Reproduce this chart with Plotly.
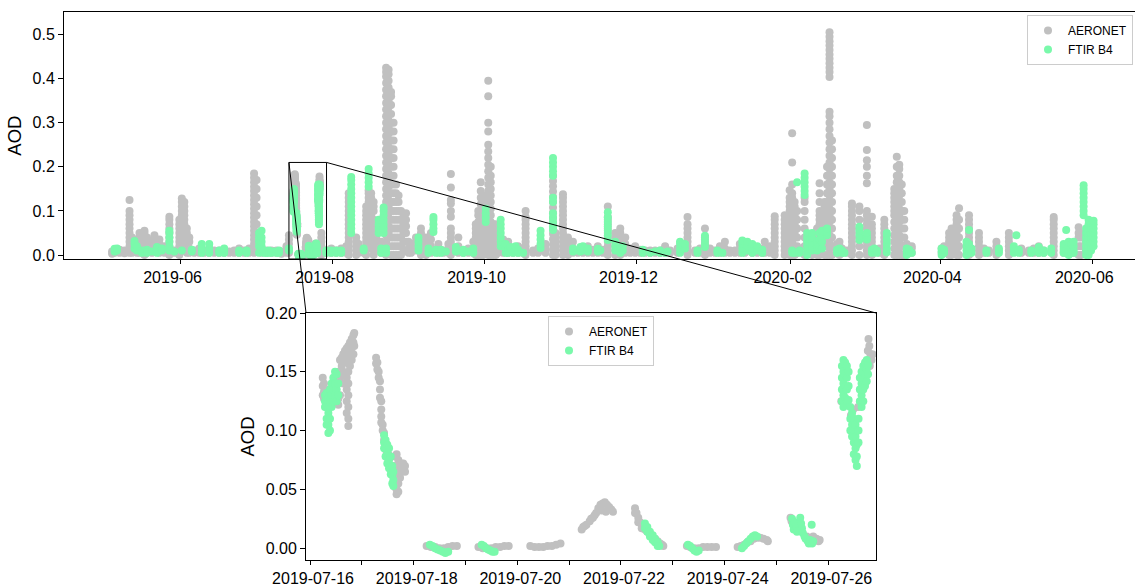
import pandas as pd
import plotly.graph_objects as go

# ---------------- data ----------------
SERIES_NAMES = ["AERONET", "FTIR B4"]
SERIES_COLORS = ["#c0c0c0", "#7af9ab"]

# daily columns (date, AOD values measured that day) for the full period
AERONET_DAILY = [
    ("2019-05-04", [0.003, 0.008]), ("2019-05-05", [0.005, 0.01]), ("2019-05-07", [0.005, 0.012]),
    ("2019-05-09", [0.004, 0.01]),
    ("2019-05-11", [0.005, 0.01, 0.02, 0.03, 0.04, 0.05, 0.06, 0.07, 0.08, 0.09, 0.1, 0.125]),
    ("2019-05-12", [0.005, 0.015, 0.03, 0.04]), ("2019-05-14", [0.005, 0.015, 0.025, 0.035]),
    ("2019-05-15", [0.005, 0.02, 0.03, 0.04, 0.05]),
    ("2019-05-17", [0.0, 0.01, 0.02, 0.03, 0.04, 0.05, 0.055]), ("2019-05-18", [0.005, 0.02, 0.03, 0.04]),
    ("2019-05-20", [0.005, 0.015, 0.03]), ("2019-05-21", [0.01, 0.02, 0.03, 0.04, 0.045]),
    ("2019-05-23", [0.005, 0.015, 0.025, 0.035]), ("2019-05-25", [0.005, 0.012, 0.02]),
    ("2019-05-27", [0.0, 0.01, 0.02, 0.03, 0.04, 0.05, 0.06, 0.07, 0.08, 0.087]),
    ("2019-05-29", [0.005, 0.01]),
    ("2019-05-31", [0.0, 0.01, 0.02, 0.03, 0.04, 0.05, 0.06, 0.07, 0.08]),
    ("2019-06-01", [0.01, 0.02, 0.03, 0.04, 0.05, 0.06, 0.07, 0.08, 0.09, 0.1, 0.11, 0.12, 0.128]),
    ("2019-06-02", [0.02, 0.03, 0.04, 0.05, 0.06, 0.07, 0.08, 0.09, 0.1, 0.11, 0.12]),
    ("2019-06-03", [0.005, 0.02, 0.035, 0.05, 0.06]), ("2019-06-04", [0.005, 0.015, 0.03, 0.04]),
    ("2019-06-06", [0.005, 0.01]), ("2019-06-08", [0.005, 0.01, 0.015]), ("2019-06-10", [0.005, 0.01]),
    ("2019-06-12", [0.005, 0.015]), ("2019-06-14", [0.005, 0.01]), ("2019-06-16", [0.005, 0.01]),
    ("2019-06-18", [0.005, 0.012]), ("2019-06-20", [0.005, 0.008]), ("2019-06-22", [0.005, 0.01]),
    ("2019-06-24", [0.005, 0.01, 0.015]), ("2019-06-26", [0.005, 0.01]), ("2019-06-28", [0.005, 0.01, 0.015]),
    ("2019-06-30", [0.005, 0.015, 0.025, 0.035, 0.045, 0.055, 0.065, 0.075, 0.085, 0.095, 0.105, 0.115,
                    0.125, 0.135, 0.145, 0.155, 0.165, 0.175, 0.185]),
    ("2019-07-01", [0.01, 0.03, 0.05, 0.07, 0.09, 0.11, 0.13, 0.15, 0.17]),
    ("2019-07-03", [0.005, 0.01]), ("2019-07-05", [0.005, 0.01]), ("2019-07-07", [0.005, 0.01]),
    ("2019-07-09", [0.005, 0.01]), ("2019-07-11", [0.003, 0.008]), ("2019-07-13", [0.005, 0.01, 0.02]),
    ("2019-07-14", [0.005, 0.015, 0.025, 0.035, 0.045]),
    ("2019-07-27", [0.0, 0.01, 0.02, 0.03, 0.04, 0.05]),
    ("2019-07-29", [0.005, 0.01]), ("2019-07-31", [0.005, 0.015]), ("2019-08-02", [0.005, 0.01]),
    ("2019-08-04", [0.005, 0.015]), ("2019-08-06", [0.005, 0.01, 0.02]),
    ("2019-08-07", [0.0, 0.01, 0.02, 0.03, 0.04, 0.05, 0.06, 0.07, 0.08, 0.09, 0.1, 0.11, 0.12, 0.13, 0.14]),
    ("2019-08-10", [0.0, 0.01, 0.02, 0.03, 0.04]), ("2019-08-11", [0.005, 0.015, 0.025]),
    ("2019-08-13", [0.005, 0.01]),
    ("2019-08-14", [0.0, 0.01, 0.02, 0.03, 0.04, 0.05, 0.06, 0.07, 0.08, 0.09, 0.1, 0.11]),
    ("2019-08-15", [0.02, 0.04, 0.06, 0.08, 0.09, 0.1, 0.11, 0.12, 0.13, 0.14, 0.147]),
    ("2019-08-16", [0.03, 0.05, 0.07, 0.09, 0.1, 0.11, 0.12, 0.13, 0.14]),
    ("2019-08-17", [0.0, 0.01, 0.02, 0.04, 0.06, 0.08, 0.1, 0.11, 0.12]),
    ("2019-08-18", [0.01, 0.02, 0.03, 0.04, 0.05, 0.06]), ("2019-08-20", [0.005, 0.015, 0.03]),
    ("2019-08-22", [0.0, 0.015, 0.03, 0.045, 0.06, 0.075, 0.09, 0.105, 0.12, 0.135, 0.15, 0.165, 0.18,
                    0.195, 0.21, 0.225, 0.24, 0.255, 0.27, 0.285, 0.3, 0.315, 0.33, 0.345, 0.36, 0.375,
                    0.39, 0.405, 0.415, 0.425]),
    ("2019-08-23", [0.05, 0.065, 0.08, 0.095, 0.11, 0.125, 0.14, 0.155, 0.17, 0.185, 0.2, 0.215, 0.23,
                    0.245, 0.26, 0.275, 0.29, 0.305, 0.32, 0.335, 0.35, 0.365, 0.38, 0.395, 0.41, 0.42]),
    ("2019-08-24", [0.0, 0.02, 0.04, 0.06, 0.08, 0.1, 0.12, 0.14, 0.16, 0.18, 0.2, 0.22, 0.24, 0.26, 0.28,
                    0.3, 0.32, 0.34, 0.36, 0.37]),
    ("2019-08-25", [0.0, 0.02, 0.04, 0.06, 0.08, 0.1, 0.12, 0.14, 0.16, 0.18, 0.2, 0.22, 0.24, 0.26, 0.28, 0.3]),
    ("2019-08-26", [0.0, 0.02, 0.04, 0.06, 0.08, 0.1, 0.12, 0.14, 0.16]),
    ("2019-08-27", [0.0, 0.02, 0.04, 0.06, 0.08, 0.1, 0.12, 0.135]),
    ("2019-08-28", [0.0, 0.02, 0.04, 0.06, 0.08, 0.1]), ("2019-08-29", [0.01, 0.03, 0.05, 0.07, 0.09]),
    ("2019-08-30", [0.03, 0.05, 0.065, 0.08, 0.095]), ("2019-08-31", [0.005, 0.015, 0.03]),
    ("2019-09-01", [0.005, 0.015, 0.025]), ("2019-09-03", [0.01, 0.02, 0.03, 0.04]),
    ("2019-09-05", [0.0, 0.01, 0.02, 0.03, 0.04, 0.05, 0.06]), ("2019-09-07", [0.0, 0.01, 0.02, 0.03, 0.04]),
    ("2019-09-09", [0.005, 0.02, 0.035, 0.05]), ("2019-09-12", [0.005, 0.015, 0.025]),
    ("2019-09-14", [0.005, 0.01]), ("2019-09-16", [0.005, 0.015, 0.025]),
    ("2019-09-17", [0.0, 0.01, 0.02, 0.03, 0.04, 0.05, 0.06, 0.087, 0.1, 0.117, 0.125, 0.153, 0.184]),
    ("2019-09-20", [0.005, 0.02, 0.04]), ("2019-09-22", [0.005, 0.01]), ("2019-09-24", [0.005, 0.015]),
    ("2019-09-26", [0.005, 0.015, 0.03]),
    ("2019-09-27", [0.0, 0.01, 0.02, 0.03, 0.04, 0.05, 0.06, 0.07]),
    ("2019-09-28", [0.0, 0.015, 0.03, 0.045, 0.06, 0.075, 0.09, 0.1]),
    ("2019-09-29", [0.0, 0.012, 0.025, 0.04, 0.055, 0.07, 0.085, 0.1, 0.115, 0.13, 0.145, 0.165]),
    ("2019-09-30", [0.0, 0.015, 0.03, 0.045, 0.06, 0.075, 0.09, 0.105, 0.12, 0.135]),
    ("2019-10-01", [0.02, 0.04, 0.06, 0.08, 0.1, 0.12]),
    ("2019-10-02", [0.0, 0.012, 0.025, 0.04, 0.055, 0.07, 0.085, 0.1, 0.115, 0.13, 0.145, 0.16, 0.175,
                    0.19, 0.205, 0.22, 0.235, 0.25, 0.28, 0.3, 0.36, 0.395]),
    ("2019-10-03", [0.0, 0.015, 0.03, 0.045, 0.06, 0.075, 0.09, 0.105, 0.12, 0.135, 0.15, 0.165, 0.18, 0.2]),
    ("2019-10-04", [0.0, 0.01, 0.02, 0.03, 0.04, 0.05, 0.06, 0.07]),
    ("2019-10-05", [0.0, 0.01, 0.02, 0.03, 0.04, 0.05, 0.06, 0.07]),
    ("2019-10-06", [0.005, 0.02, 0.035, 0.05]), ("2019-10-08", [0.005, 0.02, 0.035]),
    ("2019-10-10", [0.005, 0.015, 0.03]), ("2019-10-12", [0.005, 0.015]), ("2019-10-14", [0.005, 0.01, 0.02]),
    ("2019-10-16", [0.005, 0.015]),
    ("2019-10-17", [0.0, 0.01, 0.02, 0.03, 0.04, 0.05, 0.06, 0.07, 0.08, 0.086, 0.1]),
    ("2019-10-20", [0.005, 0.01]), ("2019-10-22", [0.005, 0.015]), ("2019-10-25", [0.005, 0.015, 0.025]),
    ("2019-10-28", [0.0, 0.012, 0.024, 0.036, 0.048, 0.06, 0.072, 0.084, 0.096, 0.108, 0.12, 0.132, 0.144,
                    0.156, 0.168, 0.18]),
    ("2019-10-29", [0.0, 0.01, 0.02, 0.03, 0.04, 0.05]),
    ("2019-11-01", [0.0, 0.01, 0.02, 0.03, 0.04, 0.05, 0.06, 0.07, 0.08, 0.09, 0.1, 0.11, 0.12, 0.13, 0.138]),
    ("2019-11-03", [0.0, 0.01, 0.02, 0.03, 0.04]), ("2019-11-05", [0.005, 0.015, 0.03]),
    ("2019-11-07", [0.005, 0.01]), ("2019-11-09", [0.005, 0.01]), ("2019-11-11", [0.005, 0.01, 0.02]),
    ("2019-11-13", [0.005, 0.012]), ("2019-11-15", [0.005, 0.01, 0.02]), ("2019-11-17", [0.005, 0.012]),
    ("2019-11-19", [0.0, 0.01, 0.02, 0.03, 0.04, 0.05, 0.06, 0.07, 0.08, 0.086, 0.11]),
    ("2019-11-22", [0.0, 0.01, 0.02, 0.03, 0.04, 0.05]),
    ("2019-11-24", [0.0, 0.01, 0.02, 0.03, 0.04, 0.05, 0.06]), ("2019-11-26", [0.005, 0.015, 0.025, 0.04]),
    ("2019-11-28", [0.005, 0.015]), ("2019-11-30", [0.005, 0.01, 0.02]), ("2019-12-02", [0.005, 0.012]),
    ("2019-12-04", [0.005, 0.01]), ("2019-12-06", [0.005, 0.01]), ("2019-12-08", [0.005, 0.01]),
    ("2019-12-10", [0.005, 0.01]), ("2019-12-12", [0.005, 0.015, 0.02]), ("2019-12-14", [0.005, 0.01]),
    ("2019-12-17", [0.005, 0.015]),
    ("2019-12-21", [0.0, 0.01, 0.02, 0.03, 0.04, 0.05, 0.06, 0.07, 0.086]),
    ("2019-12-24", [0.005, 0.01]), ("2019-12-26", [0.005, 0.015]),
    ("2019-12-28", [0.0, 0.01, 0.02, 0.03, 0.04, 0.06]), ("2019-12-30", [0.005, 0.015]),
    ("2020-01-01", [0.005, 0.01]), ("2020-01-03", [0.005, 0.01, 0.02]), ("2020-01-05", [0.005, 0.015, 0.03]),
    ("2020-01-07", [0.005, 0.01]), ("2020-01-09", [0.005, 0.01]), ("2020-01-11", [0.005, 0.015, 0.025]),
    ("2020-01-13", [0.005, 0.01]), ("2020-01-16", [0.005, 0.01]), ("2020-01-18", [0.005, 0.01, 0.015]),
    ("2020-01-20", [0.005, 0.015]), ("2020-01-21", [0.005, 0.015, 0.03]), ("2020-01-23", [0.005, 0.01, 0.02]),
    ("2020-01-25", [0.0, 0.01, 0.02, 0.03, 0.04, 0.05, 0.06, 0.07, 0.08, 0.088]),
    ("2020-01-29", [0.0, 0.01, 0.02, 0.03, 0.04, 0.05, 0.06, 0.07, 0.08, 0.09]),
    ("2020-01-31", [0.0, 0.01, 0.02, 0.03, 0.04, 0.05, 0.06, 0.07, 0.08, 0.09, 0.1, 0.11, 0.12, 0.13, 0.147]),
    ("2020-02-01", [0.0, 0.015, 0.03, 0.05, 0.06, 0.07, 0.08, 0.09, 0.1, 0.11, 0.12, 0.13, 0.14, 0.16,
                    0.21, 0.276]),
    ("2020-02-02", [0.0, 0.02, 0.04, 0.05, 0.06, 0.07, 0.08, 0.09, 0.1, 0.11, 0.12]),
    ("2020-02-03", [0.005, 0.02, 0.04, 0.06, 0.08, 0.1]),
    ("2020-02-06", [0.0, 0.02, 0.04, 0.06, 0.08, 0.1, 0.12, 0.13]),
    ("2020-02-09", [0.0, 0.01, 0.02, 0.03]), ("2020-02-11", [0.0, 0.01, 0.02, 0.03, 0.04, 0.05, 0.06]),
    ("2020-02-12", [0.0, 0.01, 0.02, 0.03, 0.04, 0.05, 0.06, 0.07, 0.08, 0.09, 0.1, 0.12, 0.14, 0.163]),
    ("2020-02-14", [0.0, 0.02, 0.04, 0.06, 0.07, 0.08, 0.09, 0.1, 0.11, 0.12]),
    ("2020-02-15", [0.0, 0.02, 0.04, 0.06, 0.08, 0.1, 0.12, 0.14, 0.16, 0.18, 0.2]),
    ("2020-02-16", [0.0, 0.015, 0.03, 0.045, 0.06, 0.075, 0.09, 0.105, 0.12, 0.135, 0.15, 0.165, 0.18,
                    0.195, 0.21, 0.225, 0.24, 0.255, 0.27, 0.285, 0.3, 0.315, 0.325, 0.404, 0.415, 0.425,
                    0.435, 0.445, 0.455, 0.465, 0.475, 0.485, 0.495, 0.505]),
    ("2020-02-17", [0.0, 0.02, 0.04, 0.06, 0.08, 0.1, 0.12, 0.14, 0.16, 0.18, 0.2, 0.22, 0.24, 0.26]),
    ("2020-02-19", [0.005, 0.015, 0.025]), ("2020-02-20", [0.0, 0.01, 0.02, 0.03]),
    ("2020-02-21", [0.005, 0.015]), ("2020-02-23", [0.005, 0.01]),
    ("2020-02-25", [0.0, 0.01, 0.02, 0.03, 0.04, 0.05, 0.06, 0.07, 0.08, 0.09, 0.1, 0.11, 0.117]),
    ("2020-02-28", [0.0, 0.02, 0.04, 0.06, 0.08, 0.1, 0.11]),
    ("2020-03-02", [0.0, 0.01, 0.02, 0.03, 0.04, 0.05, 0.06, 0.07, 0.08, 0.09, 0.1, 0.163, 0.18, 0.2,
                    0.215, 0.238, 0.295]),
    ("2020-03-04", [0.0, 0.01, 0.02, 0.03, 0.04, 0.05, 0.06, 0.07, 0.087]), ("2020-03-07", [0.005, 0.015]),
    ("2020-03-09", [0.0, 0.01, 0.02, 0.03, 0.04, 0.05, 0.06, 0.07, 0.08]),
    ("2020-03-13", [0.0, 0.015, 0.03, 0.045, 0.06, 0.075, 0.09, 0.1, 0.11, 0.12, 0.13, 0.14, 0.15]),
    ("2020-03-14", [0.0, 0.015, 0.03, 0.045, 0.06, 0.075, 0.09, 0.105, 0.12, 0.135, 0.15, 0.165, 0.18,
                    0.2, 0.223]),
    ("2020-03-15", [0.0, 0.015, 0.03, 0.045, 0.06, 0.075, 0.09, 0.105, 0.12, 0.135, 0.15, 0.165, 0.18,
                    0.195, 0.205]),
    ("2020-03-16", [0.0, 0.02, 0.04, 0.06, 0.08, 0.1, 0.12, 0.14, 0.16]),
    ("2020-03-17", [0.0, 0.02, 0.04, 0.06, 0.08, 0.1]), ("2020-03-18", [0.005, 0.015, 0.025]),
    ("2020-03-20", [0.005, 0.015, 0.02]),
    ("2020-04-01", [0.005, 0.015]), ("2020-04-02", [0.005, 0.01, 0.02]),
    ("2020-04-04", [0.0, 0.01, 0.02, 0.03, 0.04, 0.05]), ("2020-04-05", [0.0, 0.01, 0.02, 0.03, 0.04, 0.05, 0.06]),
    ("2020-04-07", [0.0, 0.01, 0.02, 0.03, 0.04, 0.05, 0.06, 0.07, 0.08, 0.09]),
    ("2020-04-08", [0.0, 0.02, 0.04, 0.06, 0.08, 0.106]),
    ("2020-04-12", [0.0, 0.01, 0.02, 0.03, 0.04, 0.05, 0.06, 0.07, 0.08, 0.09]),
    ("2020-04-16", [0.0, 0.01, 0.02, 0.03, 0.04, 0.05]), ("2020-04-18", [0.005, 0.01, 0.015]),
    ("2020-04-20", [0.005, 0.01]), ("2020-04-23", [0.0, 0.01, 0.02, 0.03]),
    ("2020-04-28", [0.0, 0.01, 0.02, 0.03, 0.04, 0.05]), ("2020-05-03", [0.005, 0.015]),
    ("2020-05-06", [0.005, 0.01]), ("2020-05-08", [0.005, 0.015]), ("2020-05-10", [0.005, 0.01, 0.02]),
    ("2020-05-12", [0.005, 0.01]),
    ("2020-05-16", [0.0, 0.01, 0.02, 0.03, 0.04, 0.05, 0.06, 0.07, 0.08, 0.086]),
    ("2020-05-20", [0.005, 0.01, 0.02]), ("2020-05-22", [0.005, 0.015, 0.025]), ("2020-05-24", [0.005, 0.02]),
    ("2020-05-26", [0.0, 0.02, 0.04, 0.05, 0.063]), ("2020-05-27", [0.0, 0.02, 0.04, 0.05]),
    ("2020-05-29", [0.01, 0.03, 0.04]), ("2020-05-30", [0.005, 0.02, 0.04]), ("2020-05-31", [0.02, 0.04]),
]

FTIR_DAILY = [
    ("2019-05-05", [0.008, 0.014]), ("2019-05-06", [0.01, 0.015]), ("2019-05-13", [0.015, 0.025, 0.032]),
    ("2019-05-14", [0.01, 0.02]), ("2019-05-16", [0.005, 0.01]), ("2019-05-18", [0.005, 0.012]),
    ("2019-05-20", [0.008]), ("2019-05-22", [0.005, 0.012, 0.018]), ("2019-05-24", [0.01, 0.015]),
    ("2019-05-27", [0.01, 0.02, 0.03, 0.04, 0.05, 0.055]), ("2019-05-29", [0.008]), ("2019-06-01", [0.01]),
    ("2019-06-05", [0.008, 0.012]), ("2019-06-09", [0.005, 0.015, 0.025]), ("2019-06-12", [0.005, 0.015, 0.025]),
    ("2019-06-16", [0.005, 0.01]), ("2019-06-18", [0.005, 0.01, 0.015]), ("2019-06-24", [0.005, 0.01]),
    ("2019-06-27", [0.005, 0.01]), ("2019-07-02", [0.005, 0.02, 0.03, 0.04, 0.05]),
    ("2019-07-03", [0.01, 0.02, 0.03, 0.04, 0.055]), ("2019-07-04", [0.005, 0.01]), ("2019-07-05", [0.005]),
    ("2019-07-06", [0.005, 0.01]), ("2019-07-07", [0.005]), ("2019-07-08", [0.008]), ("2019-07-09", [0.005]),
    ("2019-07-10", [0.005, 0.01]), ("2019-07-14", [0.01, 0.015]),
    ("2019-07-29", [0.005, 0.01]), ("2019-07-31", [0.005, 0.01]), ("2019-08-02", [0.005, 0.01]),
    ("2019-08-04", [0.005, 0.01]),
    ("2019-08-08", [0.05, 0.06, 0.07, 0.08, 0.09, 0.1, 0.11, 0.12, 0.13, 0.14, 0.15, 0.16, 0.17, 0.177]),
    ("2019-08-13", [0.01, 0.015]), ("2019-08-15", [0.155, 0.165, 0.175, 0.185, 0.195]),
    ("2019-08-19", [0.05, 0.06, 0.07, 0.08]), ("2019-08-20", [0.005, 0.015]),
    ("2019-08-21", [0.05, 0.06, 0.07, 0.08, 0.09, 0.1, 0.108]), ("2019-08-22", [0.005, 0.015]),
    ("2019-09-04", [0.01, 0.02, 0.03, 0.04]), ("2019-09-08", [0.005, 0.015]),
    ("2019-09-10", [0.052, 0.06, 0.07, 0.08, 0.086]), ("2019-09-11", [0.005, 0.012]),
    ("2019-09-13", [0.005, 0.012]), ("2019-09-15", [0.008]), ("2019-09-19", [0.008, 0.018]),
    ("2019-09-20", [0.01]), ("2019-09-22", [0.005, 0.012]), ("2019-09-24", [0.008]),
    ("2019-09-26", [0.005, 0.015]), ("2019-10-01", [0.075, 0.085, 0.095, 0.105]),
    ("2019-10-07", [0.02, 0.03, 0.04, 0.05, 0.06, 0.07, 0.08]), ("2019-10-09", [0.005, 0.015, 0.025]),
    ("2019-10-10", [0.005, 0.012]), ("2019-10-11", [0.008, 0.018]), ("2019-10-12", [0.005]),
    ("2019-10-13", [0.01, 0.02]), ("2019-10-14", [0.005, 0.012]), ("2019-10-16", [0.005]),
    ("2019-10-23", [0.016, 0.025, 0.035, 0.045, 0.055]),
    ("2019-10-28", [0.057, 0.065, 0.075, 0.085, 0.095, 0.12, 0.13, 0.18, 0.19, 0.2, 0.21, 0.22]),
    ("2019-11-05", [0.008, 0.015]), ("2019-11-07", [0.01]), ("2019-11-08", [0.008, 0.018]),
    ("2019-11-09", [0.01, 0.02]), ("2019-11-11", [0.008, 0.015]), ("2019-11-15", [0.008, 0.014]),
    ("2019-11-16", [0.01]), ("2019-11-19", [0.034, 0.045, 0.055, 0.065, 0.075, 0.085, 0.097]),
    ("2019-11-22", [0.01, 0.02, 0.03]), ("2019-11-24", [0.005, 0.015]), ("2019-11-25", [0.01, 0.02]),
    ("2019-12-03", [0.005, 0.012]), ("2019-12-06", [0.005]), ("2019-12-08", [0.008]),
    ("2019-12-10", [0.005, 0.01]), ("2019-12-12", [0.005]), ("2019-12-13", [0.008]),
    ("2019-12-18", [0.005, 0.015, 0.025, 0.03]), ("2019-12-20", [0.015, 0.025]), ("2019-12-25", [0.005, 0.01]),
    ("2019-12-28", [0.018, 0.025, 0.035, 0.044]), ("2020-01-02", [0.005, 0.01]), ("2020-01-04", [0.005]),
    ("2020-01-12", [0.005, 0.015, 0.025, 0.033]), ("2020-01-14", [0.01, 0.02, 0.03]),
    ("2020-01-16", [0.005, 0.015, 0.025]), ("2020-01-18", [0.01, 0.02]), ("2020-01-20", [0.005, 0.012]),
    ("2020-02-01", [0.005, 0.01]), ("2020-02-02", [0.005]), ("2020-02-03", [0.165]),
    ("2020-02-04", [0.005, 0.01]), ("2020-02-06", [0.136, 0.145, 0.155, 0.165, 0.175, 0.185]),
    ("2020-02-07", [0.0, 0.01, 0.02, 0.03, 0.04, 0.05]), ("2020-02-09", [0.01, 0.02, 0.03, 0.04, 0.05]),
    ("2020-02-11", [0.01, 0.02, 0.03]), ("2020-02-12", [0.02, 0.035, 0.05]),
    ("2020-02-13", [0.015, 0.03, 0.045, 0.055]), ("2020-02-15", [0.045, 0.052, 0.06]),
    ("2020-02-19", [0.005, 0.012]), ("2020-02-20", [0.008, 0.015]), ("2020-02-21", [0.005, 0.01]),
    ("2020-02-22", [0.005]), ("2020-02-28", [0.034, 0.045, 0.055, 0.064]), ("2020-03-02", [0.035, 0.042, 0.05]),
    ("2020-03-04", [0.005, 0.012]), ("2020-03-05", [0.008, 0.015]), ("2020-03-06", [0.005, 0.01]),
    ("2020-03-10", [0.006, 0.015, 0.025, 0.035, 0.045, 0.05]), ("2020-03-18", [0.0, 0.008, 0.015]),
    ("2020-03-19", [0.005, 0.012]), ("2020-03-20", [0.005]), ("2020-04-01", [0.0, 0.008, 0.015]),
    ("2020-04-02", [0.005, 0.012]), ("2020-04-11", [0.0, 0.01, 0.02, 0.03]),
    ("2020-04-12", [0.005, 0.015, 0.025, 0.057]), ("2020-04-13", [0.005, 0.015]), ("2020-04-19", [0.005, 0.01]),
    ("2020-04-24", [0.005, 0.01, 0.015]), ("2020-04-30", [0.005, 0.015, 0.02]), ("2020-05-01", [0.045]),
    ("2020-05-02", [0.005, 0.012]), ("2020-05-07", [0.005, 0.01]), ("2020-05-10", [0.005, 0.012, 0.018]),
    ("2020-05-12", [0.005, 0.01]), ("2020-05-15", [0.005, 0.015]), ("2020-05-20", [0.005, 0.015, 0.025]),
    ("2020-05-21", [0.057]), ("2020-05-22", [0.0, 0.01, 0.02, 0.03]), ("2020-05-23", [0.005, 0.015, 0.025]),
    ("2020-05-24", [0.005, 0.01, 0.02, 0.03]),
    ("2020-05-28", [0.09, 0.1, 0.11, 0.12, 0.13, 0.14, 0.15, 0.158]),
    ("2020-05-29", [0.0, 0.01, 0.02, 0.03, 0.04, 0.05, 0.06]),
    ("2020-05-30", [0.0, 0.01, 0.02, 0.03, 0.04, 0.05, 0.06, 0.07, 0.08]),
    ("2020-05-31", [0.01, 0.02, 0.03, 0.04, 0.05, 0.06, 0.07]),
    ("2020-06-01", [0.02, 0.03, 0.04, 0.05, 0.06, 0.07, 0.078]),
]

# detailed observations 16-26 July 2019: (hours since INSET_START, AOD values)
INSET_START = "2019-07-16"
AERONET_JULY = [
    (5.9, [0.145, 0.138, 0.13]), (6.5, [0.14, 0.133, 0.127]), (7.4, [0.135, 0.128]), (8.5, [0.13]),
    (10.0, [0.135]), (11.6, [0.14, 0.125]), (13.1, [0.15, 0.127, 0.122]), (13.9, [0.16, 0.145, 0.13]),
    (14.7, [0.162, 0.155]), (15.4, [0.165, 0.15, 0.14]), (16.2, [0.168, 0.158, 0.148]),
    (17.0, [0.17, 0.16, 0.145, 0.135, 0.125, 0.115]),
    (17.75, [0.172, 0.162, 0.15, 0.14, 0.13, 0.12, 0.11, 0.104]), (18.5, [0.175, 0.168, 0.155]),
    (19.3, [0.178, 0.17, 0.16]), (20.1, [0.181, 0.175, 0.165]), (20.5, [0.183, 0.172]),
    (30.6, [0.162, 0.157]), (31.2, [0.158, 0.152]), (31.8, [0.15, 0.145]), (32.4, [0.142, 0.135, 0.128]),
    (33.0, [0.125, 0.118, 0.112, 0.107]), (33.65, [0.105, 0.1]), (34.3, [0.098, 0.092]), (34.9, [0.09, 0.085]),
    (35.5, [0.088, 0.082]), (36.3, [0.08, 0.075]), (37.8, [0.07, 0.065]), (39.4, [0.078, 0.07, 0.06, 0.052]),
    (40.1, [0.08, 0.07, 0.06, 0.05, 0.046]), (40.9, [0.075, 0.065, 0.055, 0.048]), (41.7, [0.07, 0.06]),
    (42.4, [0.072, 0.065]), (43.2, [0.072, 0.066]), (44.0, [0.07, 0.065]),
    (54, [0.002]), (56, [0.001]), (58, [0.001]), (60, [0.0]), (62, [0.0]), (64, [0.001]), (66, [0.002]),
    (68, [0.002]),
    (78, [0.001]), (80, [0.0]), (82, [0.0]), (84, [0.0]), (86, [0.001]), (88, [0.001]), (90, [0.002]),
    (92, [0.002]),
    (102, [0.002]), (104, [0.001]), (106, [0.001]), (108, [0.001]), (110, [0.002]), (112, [0.002]),
    (114, [0.003]), (116, [0.004]),
    (125.8, [0.016]), (126.5, [0.018]), (127.2, [0.019]), (128.0, [0.02]), (129.5, [0.023]), (130.2, [0.025]),
    (131.0, [0.026]), (131.8, [0.028]), (132.5, [0.03]), (133.5, [0.034]), (134.5, [0.037]),
    (135.0, [0.032]), (135.5, [0.038]), (136.5, [0.039]), (137.0, [0.031]), (137.5, [0.037]),
    (138.5, [0.035]), (139.5, [0.033]), (140.3, [0.031]),
    (150.5, [0.034, 0.03]), (151.2, [0.03]), (152.0, [0.026, 0.022]), (152.8, [0.022]),
    (153.6, [0.02, 0.017]), (154.3, [0.018]), (155.1, [0.016]), (156.2, [0.014]), (157.4, [0.012]),
    (158.5, [0.01]), (159.75, [0.008]), (161.0, [0.006]), (162.1, [0.004]), (163.0, [0.003]), (163.6, [0.002]),
    (174.5, [0.002]), (176, [0.001]), (178, [0.0]), (180, [0.0]), (182, [0.001]), (184, [0.001]),
    (186, [0.001]), (188, [0.001]),
    (198, [0.001]), (199.5, [0.002]), (201, [0.003]), (202.5, [0.005]), (204, [0.006]), (205.5, [0.008]),
    (207, [0.009]), (208.5, [0.009]), (210, [0.008]), (211.5, [0.007]), (212, [0.006]),
    (222.5, [0.026]), (223, [0.023]), (224, [0.02]), (227, [0.018]), (230, [0.01]), (233, [0.01]),
    (234.5, [0.008]), (235.5, [0.006]), (236, [0.007]),
    (246, [0.125]), (250.5, [0.113]), (251.5, [0.118]), (252, [0.1]), (253.8, [0.12]),
    (257.2, [0.15]), (257.8, [0.158]), (258.3, [0.168]), (258.6, [0.178]), (259.0, [0.172]),
    (259.2, [0.155]), (259.5, [0.165]), (260.0, [0.16]), (260.5, [0.165]),
]

FTIR_JULY = [
    (6.94, [0.13, 0.125, 0.12]), (7.7, [0.132, 0.12, 0.11, 0.105]), (8.5, [0.128, 0.115, 0.105, 0.098]),
    (9.25, [0.135, 0.125, 0.11, 0.1]), (10.0, [0.14, 0.13, 0.12]), (10.8, [0.145, 0.135, 0.125]),
    (11.6, [0.15, 0.14, 0.13]), (12.35, [0.148, 0.135, 0.125]), (13.1, [0.14, 0.13]),
    (34.3, [0.096, 0.09, 0.085]), (35.0, [0.092, 0.085, 0.078]), (35.8, [0.088, 0.08, 0.072]),
    (36.6, [0.085, 0.075, 0.068]), (37.4, [0.078, 0.07, 0.063]), (38.1, [0.07, 0.062, 0.055]),
    (38.6, [0.065, 0.058, 0.053]),
    (55.5, [0.003]), (56.7, [0.002]), (57.9, [0.0]), (59.1, [-0.001]), (60.3, [-0.002]), (61.5, [-0.003]),
    (62.7, [-0.004]), (64.0, [-0.003]),
    (79.5, [0.003]), (80.5, [0.002]), (81.5, [0.0]), (82.5, [-0.001]), (83.5, [-0.002]), (84.5, [-0.003]),
    (85.5, [-0.003]),
    (155.1, [0.021, 0.017]), (156.2, [0.018, 0.014]), (157.4, [0.014, 0.01]), (158.7, [0.011, 0.007]),
    (159.75, [0.008, 0.005]), (161.0, [0.005, 0.002]), (161.75, [0.002]),
    (175, [0.003]), (176, [0.002]), (177, [0.0]), (178, [-0.002]), (179, [-0.003]), (180, [-0.002]),
    (200, [0.0]), (201, [0.002]), (202, [0.004]), (203, [0.006]), (204, [0.008]), (205, [0.01]),
    (206, [0.011]), (207, [0.01]),
    (223.2, [0.025]), (223.6, [0.02]), (224.0, [0.016]), (224.4, [0.022]), (225.0, [0.018]), (225.5, [0.014]),
    (227.0, [0.026]), (227.4, [0.021]), (227.8, [0.017]), (228.2, [0.013]), (229.0, [0.01]), (229.5, [0.008]),
    (230.5, [0.006]), (231.0, [0.004]), (231.5, [0.007]), (232.3, [0.02]), (232.5, [0.004]), (233.0, [0.006]),
    (246.3, [0.155, 0.145, 0.135, 0.125]), (247.0, [0.16, 0.15, 0.14, 0.13, 0.12]),
    (247.8, [0.158, 0.148, 0.138, 0.128]), (248.6, [0.155, 0.145, 0.135, 0.125]),
    (249.4, [0.15, 0.138, 0.126]), (250.2, [0.12, 0.11, 0.1]), (251.0, [0.115, 0.105, 0.095]),
    (251.8, [0.11, 0.1, 0.09, 0.08]), (252.6, [0.105, 0.095, 0.085, 0.075]),
    (253.2, [0.1, 0.088, 0.078, 0.07]), (254.0, [0.11, 0.1, 0.09]), (254.6, [0.125, 0.135, 0.145]),
    (255.4, [0.15, 0.14, 0.13, 0.12]), (256.2, [0.155, 0.145, 0.135, 0.125]),
    (257.0, [0.158, 0.148, 0.138]), (257.8, [0.16, 0.152, 0.142]), (258.4, [0.156, 0.148]),
]

# axes settings
MAIN_XRANGE = ["2019-04-15 04:48", "2020-06-18 03:07"]
MAIN_YRANGE = [-0.009, 0.5505]
INSET_XRANGE = ["2019-07-15 22:09", "2019-07-26 22:05"]
INSET_YRANGE = [-0.01, 0.20]
ZOOM_BOX_X = ["2019-07-14 12:00", "2019-07-29 14:00"]
ZOOM_BOX_Y = [-0.009, 0.21]
Y_LABEL = "AOD"

# ---------------- helpers ----------------
def expand_daily(cols):
    xs, ys = [], []
    for day, vals in cols:
        t = pd.Timestamp(day) + pd.Timedelta(hours=12)
        for v in vals:
            xs.append(t)
            ys.append(v)
    return xs, ys


def expand_july(cols):
    base = pd.Timestamp(INSET_START)
    xs, ys = [], []
    for h, vals in cols:
        t = base + pd.Timedelta(hours=h)
        for v in vals:
            xs.append(t)
            ys.append(v)
    return xs, ys


ax_d, ay_d = expand_daily(AERONET_DAILY)
ax_j, ay_j = expand_july(AERONET_JULY)
fx_d, fy_d = expand_daily(FTIR_DAILY)
fx_j, fy_j = expand_july(FTIR_JULY)
aer_x, aer_y = ax_d + ax_j, ay_d + ay_j
ftir_x, ftir_y = fx_d + fx_j, fy_d + fy_j

W, H = 1135, 588
MAIN_XDOM = [64 / W, 1.0]
MAIN_YDOM = [1 - 259 / H, 1 - 12.3 / H]
INSET_XDOM = [306 / W, 876 / W]
INSET_YDOM = [1 - 560 / H, 1 - 313 / H]

FONT = "Liberation Sans, Arial, sans-serif"
MS = 8

fig = go.Figure()
for (xs, ys), name, color in zip([(aer_x, aer_y), (ftir_x, ftir_y)], SERIES_NAMES, SERIES_COLORS):
    fig.add_trace(go.Scatter(x=xs, y=ys, mode="markers", name=name, xaxis="x", yaxis="y",
                             marker=dict(color=color, size=MS, line=dict(width=0)), legend="legend"))
for (xs, ys), name, color in zip([(aer_x, aer_y), (ftir_x, ftir_y)], SERIES_NAMES, SERIES_COLORS):
    fig.add_trace(go.Scatter(x=xs, y=ys, mode="markers", name=name, xaxis="x2", yaxis="y2",
                             marker=dict(color=color, size=MS, line=dict(width=0)), legend="legend2"))

axis_common = dict(showgrid=False, zeroline=False, showline=True, linecolor="black", linewidth=1,
                   ticks="outside", tickcolor="black", tickwidth=1, automargin=False,
                   tickfont=dict(family=FONT, size=16, color="black"))


def to_ms(t):
    return pd.Timestamp(t).value / 1e6


def main_paper(t, v):
    x0, x1 = to_ms(MAIN_XRANGE[0]), to_ms(MAIN_XRANGE[1])
    px = MAIN_XDOM[0] + (to_ms(t) - x0) / (x1 - x0) * (MAIN_XDOM[1] - MAIN_XDOM[0])
    py = MAIN_YDOM[0] + (v - MAIN_YRANGE[0]) / (MAIN_YRANGE[1] - MAIN_YRANGE[0]) * (MAIN_YDOM[1] - MAIN_YDOM[0])
    return px, py


tl = main_paper(ZOOM_BOX_X[0], ZOOM_BOX_Y[1])
tr = main_paper(ZOOM_BOX_X[1], ZOOM_BOX_Y[1])

shapes = [
    dict(type="rect", xref="x", yref="y", x0=ZOOM_BOX_X[0], x1=ZOOM_BOX_X[1], y0=ZOOM_BOX_Y[0],
         y1=ZOOM_BOX_Y[1], line=dict(color="black", width=1), fillcolor="rgba(0,0,0,0)", layer="above"),
    dict(type="line", xref="paper", yref="paper", x0=tl[0], y0=tl[1], x1=INSET_XDOM[0], y1=INSET_YDOM[1],
         line=dict(color="black", width=1), layer="above"),
    dict(type="line", xref="paper", yref="paper", x0=tr[0], y0=tr[1], x1=INSET_XDOM[1], y1=INSET_YDOM[1],
         line=dict(color="black", width=1), layer="above"),
]

legend_common = dict(bgcolor="rgba(255,255,255,0.85)", bordercolor="#cccccc", borderwidth=1,
                     font=dict(family=FONT, size=12, color="black"), itemsizing="trace",
                     yanchor="top", tracegroupgap=0, itemwidth=30)

fig.update_layout(
    width=W, height=H, margin=dict(l=0, r=0, t=0, b=0, autoexpand=False),
    paper_bgcolor="white", plot_bgcolor="white",
    font=dict(family=FONT, color="black"),
    showlegend=True,
    xaxis=dict(axis_common, domain=MAIN_XDOM, range=MAIN_XRANGE, type="date", anchor="y",
               dtick="M2", tick0="2019-06-01", tickformat="%Y-%m", mirror=True, ticklen=4,
               ticklabelshift=-8),
    yaxis=dict(axis_common, domain=MAIN_YDOM, range=MAIN_YRANGE, anchor="x", dtick=0.1, tick0=0,
               tickformat=".1f", mirror=False, ticklen=5,
               title=dict(text=Y_LABEL, font=dict(family=FONT, size=18.5, color="black"), standoff=6)),
    xaxis2=dict(axis_common, domain=INSET_XDOM, range=INSET_XRANGE, type="date", anchor="y2",
                dtick=2 * 86400000, tick0="2019-07-16", tickformat="%Y-%m-%d", mirror=True, ticklen=4,
                ticklabelshift=3,
                minor=dict(dtick=86400000, tick0="2019-07-16", ticks="outside", ticklen=4, tickcolor="black")),
    yaxis2=dict(axis_common, domain=INSET_YDOM, range=INSET_YRANGE, anchor="x2", dtick=0.05, tick0=0,
                tickformat=".2f", mirror=True, ticklen=5,
                title=dict(text=Y_LABEL, font=dict(family=FONT, size=18.5, color="black"), standoff=6)),
    legend=dict(legend_common, x=1133 / W, xanchor="right", y=1 - 15 / H),
    legend2=dict(legend_common, x=548 / W, xanchor="left", y=1 - 316 / H),
    shapes=shapes,
)

fig.write_html("out.html")
